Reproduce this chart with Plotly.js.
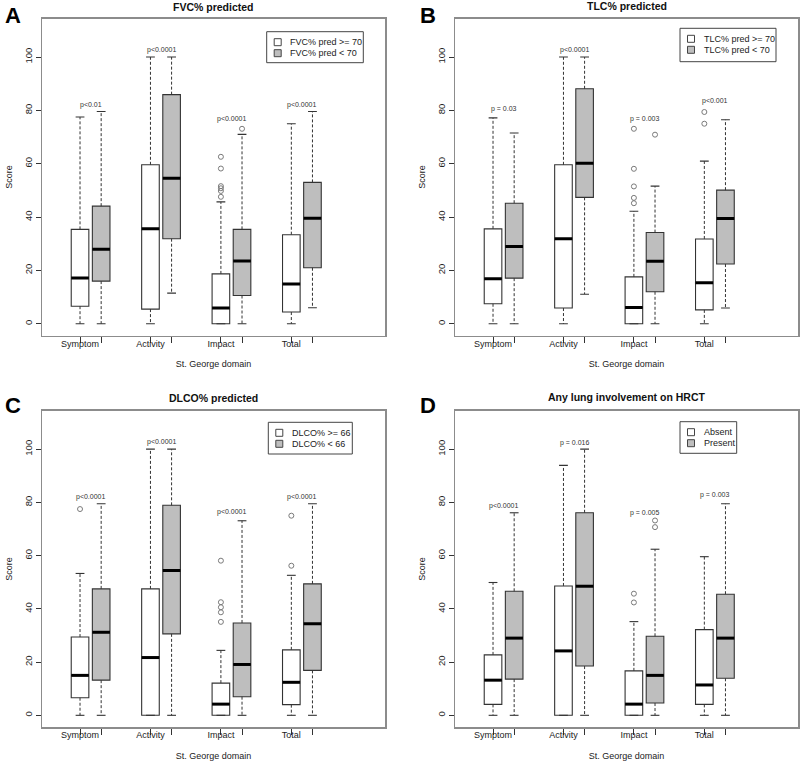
<!DOCTYPE html>
<html><head><meta charset="utf-8">
<script src="https://cdn.plot.ly/plotly-3.0.1.min.js"></script>
<style>body{margin:0;background:#fff}#chart{width:800px;height:783px}</style>
</head><body><div id="chart"></div>
<script>
// ---------- shared ----------
const domains = ['Symptom', 'Activity', 'Impact', 'Total'];
const posLow = [1, 2, 3, 4];        // first box of each pair
const posHigh = [1.3, 2.3, 3.3, 4.3]; // second box of each pair

// ---------- Panel A: FVC% predicted ----------
const fvcNames = ['FVC% pred >= 70', 'FVC% pred < 70'];
const fvcHiMin = [0, 0, 0, 0];
const fvcHiQ1 = [6.6, 5.5, 0, 4.4];
const fvcHiMed = [17.2, 35.6, 5.9, 14.9];
const fvcHiQ3 = [35.4, 59.6, 18.7, 33.4];
const fvcHiMax = [77.5, 100, 45.7, 75];
const fvcHiOut = [[], [], [62.6, 58.2, 51.6, 50.8, 49.8, 47.6], []];
const fvcLoMin = [0, 11.5, 0, 6];
const fvcLoQ1 = [16, 31.9, 10.6, 21];
const fvcLoMed = [27.9, 54.6, 23.5, 39.6];
const fvcLoQ3 = [44.1, 85.9, 35.4, 53];
const fvcLoMax = [79.6, 100, 71, 79.6];
const fvcLoOut = [[], [], [73.1], []];
const fvcP = ['p<0.01', 'p<0.0001', 'p<0.0001', 'p<0.0001'];
const fvcPY = [81.9, 102.5, 76.6, 81.9];

// ---------- Panel B: TLC% predicted ----------
const tlcNames = ['TLC% pred >= 70', 'TLC% pred < 70'];
const tlcHiMin = [0, 0, 0, 0];
const tlcHiQ1 = [7.5, 5.9, 0, 5.2];
const tlcHiMed = [16.9, 31.9, 6.1, 15.4];
const tlcHiQ3 = [35.6, 59.6, 17.6, 31.8];
const tlcHiMax = [77.2, 100, 42.2, 61];
const tlcHiOut = [[], [], [73.1, 58.1, 51.5, 47.2, 45.2], [79.4, 75]];
const tlcLoMin = [0, 11.1, 0, 5.9];
const tlcLoQ1 = [17.1, 47.4, 12, 22.4];
const tlcLoMed = [29, 60.2, 23.4, 39.5];
const tlcLoQ3 = [45.2, 88.1, 34.2, 50.1];
const tlcLoMax = [71.5, 100, 51.6, 76.5];
const tlcLoOut = [[], [], [70.9], []];
const tlcP = ['p = 0.03', 'p<0.0001', 'p = 0.003', 'p<0.001'];
const tlcPY = [80.6, 102.5, 76.9, 83.4];

// ---------- Panel C: DLCO% predicted ----------
const dlcoNames = ['DLCO% >= 66', 'DLCO% < 66'];
const dlcoHiMin = [0, 0, 0, 0];
const dlcoHiQ1 = [6.6, 0, 0, 4];
const dlcoHiMed = [15, 21.7, 4.2, 12.4];
const dlcoHiQ3 = [29.4, 47.5, 12.1, 24.6];
const dlcoHiMax = [53.3, 100, 24.4, 52.6];
const dlcoHiOut = [[77.5], [], [58.1, 42.5, 40.6, 38.7, 35.1], [75, 56.2]];
const dlcoLoMin = [0, 0, 0, 0];
const dlcoLoQ1 = [13.2, 30.6, 7, 16.9];
const dlcoLoMed = [31.2, 54.4, 19.1, 34.4];
const dlcoLoQ3 = [47.5, 78.9, 34.7, 49.4];
const dlcoLoMax = [79.5, 100, 73.1, 79.5];
const dlcoLoOut = [[], [], [], []];
const dlcoP = ['p<0.0001', 'p<0.0001', 'p<0.0001', 'p<0.0001'];
const dlcoPY = [82, 102.6, 76.4, 82];

// ---------- Panel D: Any lung involvement on HRCT ----------
const hrctNames = ['Absent', 'Present'];
const hrctAbsMin = [0, 0, 0, 0];
const hrctAbsQ1 = [4.1, 0, 0, 4.1];
const hrctAbsMed = [13.2, 24.2, 4.2, 11.4];
const hrctAbsQ3 = [22.7, 48.6, 16.7, 32.2];
const hrctAbsMax = [49.9, 93.9, 35.2, 59.6];
const hrctAbsOut = [[], [], [45.7, 42.4], []];
const hrctPresMin = [0, 0, 0, 0];
const hrctPresQ1 = [13.6, 18.5, 4.6, 13.9];
const hrctPresMed = [29, 48.5, 15, 29];
const hrctPresQ3 = [46.6, 76.1, 29.7, 45.5];
const hrctPresMax = [76.1, 100, 62.4, 79.5];
const hrctPresOut = [[], [], [73.2, 70.7], []];
const hrctP = ['p<0.0001', 'p = 0.016', 'p = 0.005', 'p = 0.003'];
const hrctPY = [78.6, 102.4, 76.1, 82.6];

const titles = ['FVC% predicted', 'TLC% predicted', 'DLCO% predicted', 'Any lung involvement on HRCT'];
const letters = ['A', 'B', 'C', 'D'];

const panels = [
  {names: fvcNames, groups: [
    {pos: posLow, min: fvcHiMin, q1: fvcHiQ1, med: fvcHiMed, q3: fvcHiQ3, max: fvcHiMax, out: fvcHiOut, fill: '#ffffff'},
    {pos: posHigh, min: fvcLoMin, q1: fvcLoQ1, med: fvcLoMed, q3: fvcLoQ3, max: fvcLoMax, out: fvcLoOut, fill: '#bebebe'}],
   p: fvcP, pY: fvcPY},
  {names: tlcNames, groups: [
    {pos: posLow, min: tlcHiMin, q1: tlcHiQ1, med: tlcHiMed, q3: tlcHiQ3, max: tlcHiMax, out: tlcHiOut, fill: '#ffffff'},
    {pos: posHigh, min: tlcLoMin, q1: tlcLoQ1, med: tlcLoMed, q3: tlcLoQ3, max: tlcLoMax, out: tlcLoOut, fill: '#bebebe'}],
   p: tlcP, pY: tlcPY},
  {names: dlcoNames, groups: [
    {pos: posLow, min: dlcoHiMin, q1: dlcoHiQ1, med: dlcoHiMed, q3: dlcoHiQ3, max: dlcoHiMax, out: dlcoHiOut, fill: '#ffffff'},
    {pos: posHigh, min: dlcoLoMin, q1: dlcoLoQ1, med: dlcoLoMed, q3: dlcoLoQ3, max: dlcoLoMax, out: dlcoLoOut, fill: '#bebebe'}],
   p: dlcoP, pY: dlcoPY},
  {names: hrctNames, groups: [
    {pos: posLow, min: hrctAbsMin, q1: hrctAbsQ1, med: hrctAbsMed, q3: hrctAbsQ3, max: hrctAbsMax, out: hrctAbsOut, fill: '#ffffff'},
    {pos: posHigh, min: hrctPresMin, q1: hrctPresQ1, med: hrctPresMed, q3: hrctPresQ3, max: hrctPresMax, out: hrctPresOut, fill: '#bebebe'}],
   p: hrctP, pY: hrctPY}
];

// ---------- geometry (pixels of the 800x783 page) ----------
const W = 800, H = 783;
const px = v => v / W, py = v => 1 - v / H;
const FONT = '"Liberation Sans", Arial, Helvetica, sans-serif';
const BOXW = 0.25;
const CAPW = BOXW / 4;
const xDom = [[0.0525, 0.48125], [0.56875, 0.9975], [0.0525, 0.48125], [0.56875, 0.9975]];
const yDom = [[0.5715, 0.9762], [0.5715, 0.9762], [0.0715, 0.4753], [0.0715, 0.4753]];
// legend boxes: [left, top, right, bottom] in page px
const legendBox = [[266.7, 31.7, 363.3, 62.7], [680, 28.3, 776, 61.7], [268.3, 422.3, 352.3, 454], [680, 421.7, 736.7, 453.3]];
const letterPos = [[13, 15], [428, 15], [13, 405.5], [428, 405]];
const titleY = [7, 6, 398, 397];

const boxTraces = [], lineTraces = [], annotations = [], shapes = [];
const layout = {
  width: W, height: H, margin: {l: 0, r: 0, t: 0, b: 0},
  paper_bgcolor: '#fff', plot_bgcolor: '#fff',
  font: {family: FONT, color: '#222'},
  boxmode: 'overlay', showlegend: false, hovermode: false,
  annotations: annotations, shapes: shapes
};

panels.forEach((pn, i) => {
  const sfx = i === 0 ? '' : String(i + 1);
  const xa = 'x' + sfx, ya = 'y' + sfx;
  pn.groups.forEach((g, j) => {
    boxTraces.push({
      type: 'box', name: pn.names[j],
      xaxis: xa, yaxis: ya,
      x: g.pos, q1: g.q1, median: g.med, q3: g.q3,
      lowerfence: g.q1, upperfence: g.q3,
      width: BOXW, whiskerwidth: 0, boxpoints: false,
      fillcolor: g.fill, line: {color: '#333', width: 1.1}
    });
    const wx = [], wy = [], cx = [], cy = [], mx = [], my = [], ox = [], oy = [];
    g.pos.forEach((p, k) => {
      wx.push(p, p, null, p, p, null);
      wy.push(g.q3[k], g.max[k], null, g.q1[k], g.min[k], null);
      cx.push(p - CAPW, p + CAPW, null, p - CAPW, p + CAPW, null);
      cy.push(g.max[k], g.max[k], null, g.min[k], g.min[k], null);
      mx.push(p - BOXW / 2, p + BOXW / 2, null);
      my.push(g.med[k], g.med[k], null);
      g.out[k].forEach(v => { ox.push(p); oy.push(v); });
    });
    lineTraces.push({type: 'scatter', mode: 'lines', xaxis: xa, yaxis: ya, showlegend: false,
      x: wx, y: wy, line: {color: '#333', width: 1, dash: '3px,2px'}, cliponaxis: false});
    lineTraces.push({type: 'scatter', mode: 'lines', xaxis: xa, yaxis: ya, showlegend: false,
      x: cx, y: cy, line: {color: '#333', width: 1.1}, cliponaxis: false});
    lineTraces.push({type: 'scatter', mode: 'lines', xaxis: xa, yaxis: ya, showlegend: false,
      x: mx, y: my, line: {color: '#000', width: 3}});
    lineTraces.push({type: 'scatter', mode: 'markers', xaxis: xa, yaxis: ya, showlegend: false,
      x: ox, y: oy, marker: {symbol: 'circle-open', size: 5, color: '#7a7a7a', line: {width: 1}}});
  });
  // p-value labels between each pair
  pn.p.forEach((t, k) => {
    annotations.push({xref: xa, yref: ya, x: (posLow[k] + posHigh[k]) / 2, y: pn.pY[k],
      xanchor: 'center', yanchor: 'middle',
      text: t, showarrow: false, font: {size: 7, color: '#333'}});
  });
  // panel title and letter
  const xc = (xDom[i][0] + xDom[i][1]) / 2;
  annotations.push({xref: 'paper', yref: 'paper', x: xc, y: py(titleY[i]), xanchor: 'center', yanchor: 'middle',
    text: '<b>' + titles[i] + '</b>', showarrow: false, font: {size: 10.5, color: '#111'}});
  annotations.push({xref: 'paper', yref: 'paper', x: px(letterPos[i][0]), y: py(letterPos[i][1]),
    xanchor: 'center', yanchor: 'middle',
    text: '<b>' + letters[i] + '</b>', showarrow: false, font: {size: 22, color: '#000'}});

  // legend (R style box legend)
  const lb = legendBox[i];
  shapes.push({type: 'rect', xref: 'paper', yref: 'paper', x0: px(lb[0]), x1: px(lb[2]), y0: py(lb[1]), y1: py(lb[3]),
    line: {color: '#444', width: 1}, fillcolor: '#fff', layer: 'above'});
  pn.groups.forEach((g, j) => {
    const cyPx = lb[1] + 10.5 + j * 11;
    const sx = lb[0] + 11;
    shapes.push({type: 'rect', xref: 'paper', yref: 'paper',
      x0: px(sx - 3.5), x1: px(sx + 3.5), y0: py(cyPx - 3.5), y1: py(cyPx + 3.5),
      line: {color: '#444', width: 1}, fillcolor: g.fill, layer: 'above'});
    annotations.push({xref: 'paper', yref: 'paper', x: px(sx + 10.5), y: py(cyPx), xanchor: 'left', yanchor: 'middle',
      text: pn.names[j], showarrow: false, font: {size: 9, color: '#222'}});
  });

  const tv = [], tt = [];
  posLow.forEach((p, k) => { tv.push(p, posHigh[k]); tt.push(domains[k], ''); });
  layout['xaxis' + sfx] = {
    domain: xDom[i], anchor: ya, range: [0.46, 5.33],
    tickmode: 'array', tickvals: tv, ticktext: tt,
    ticks: 'outside', ticklen: 6, tickcolor: '#333', tickwidth: 1,
    ticklabelstandoff: -7,
    tickfont: {size: 9, color: '#222'},
    showline: true, mirror: true, linecolor: '#8c8c8c', linewidth: 1.5,
    showgrid: false, zeroline: false, fixedrange: true,
    title: {text: 'St. George domain', font: {size: 9, color: '#222'}, standoff: 13}
  };
  layout['yaxis' + sfx] = {
    domain: yDom[i], anchor: xa, range: [-4.4, 114.4],
    tickmode: 'array', tickvals: [0, 20, 40, 60, 80, 100],
    tickangle: -90, ticks: 'outside', ticklen: 5, tickcolor: '#333', tickwidth: 1,
    tickfont: {size: 9.5, color: '#222'},
    showline: true, mirror: true, linecolor: '#8c8c8c', linewidth: 1.5,
    showgrid: false, zeroline: false, fixedrange: true,
    title: {text: 'Score', font: {size: 9, color: '#222'}, standoff: 8}
  };
});

Plotly.newPlot('chart', boxTraces.concat(lineTraces), layout, {displayModeBar: false, staticPlot: true});
</script>
</body></html>
